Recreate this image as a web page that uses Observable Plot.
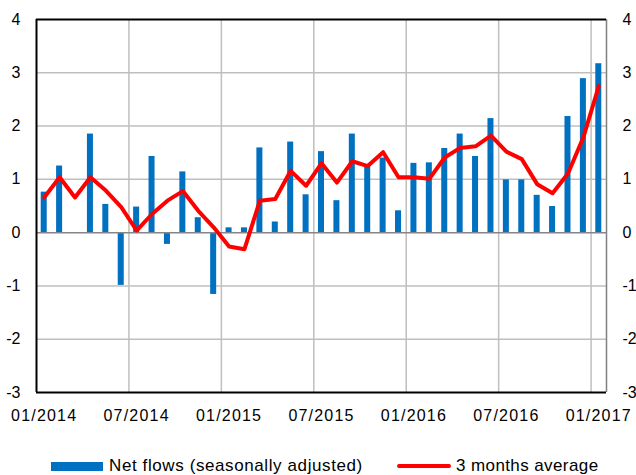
<!DOCTYPE html>
<html>
<head>
<meta charset="utf-8">
<script src="https://cdn.jsdelivr.net/npm/d3@7"></script>
<script src="https://cdn.jsdelivr.net/npm/@observablehq/plot@0.6"></script>
<style>
  html, body { margin: 0; padding: 0; background: #fff; }
  body { width: 636px; height: 475px; overflow: hidden; font-family: "Liberation Sans", Arial, sans-serif; }
  #chart svg { display: block; overflow: hidden; }
  #chart svg g[aria-label="x-axis tick label"] text { letter-spacing: 1.2px; }
  .legend { position: relative; height: 35px; font-size: 17px; color: #000; letter-spacing: 0.6px; }
  .legend .item { position: absolute; top: 16px; display: flex; align-items: center; height: 20px; white-space: nowrap; }
  .legend .sw-bar { width: 52px; height: 9px; background: #0070c0; margin-right: 6px; }
  .legend .sw-line { width: 54px; height: 4px; background: #ff0000; border-radius: 2px; margin-right: 5px; }
</style>
</head>
<body>
<div id="chart"></div>
<div class="legend">
  <div class="item" style="left:51px"><span class="sw-bar"></span><span>Net flows (seasonally adjusted)</span></div>
  <div class="item" style="left:397px"><span class="sw-line"></span><span style="letter-spacing:0.4px">3 months average</span></div>
</div>
<script>
// Months 01/2014 .. 01/2017
const months = d3.utcMonths(new Date(Date.UTC(2014, 0, 1)), new Date(Date.UTC(2017, 1, 1)));

const netFlows = [0.76, 1.25, 0.00, 1.85, 0.53, -0.99, 0.48, 1.43, -0.22, 1.14, 0.28, -1.16,
                  0.09, 0.09, 1.59, 0.20, 1.70, 0.71, 1.52, 0.60, 1.85, 1.27, 1.40, 0.41,
                  1.30, 1.31, 1.58, 1.85, 1.43, 2.14, 0.99, 0.99, 0.70, 0.49, 2.18, 2.89,
                  3.17];

const avg3 = [0.66, 1.04, 0.66, 1.04, 0.79, 0.48, 0.04, 0.35, 0.60, 0.78, 0.41, 0.10,
              -0.26, -0.31, 0.60, 0.63, 1.16, 0.88, 1.30, 0.94, 1.34, 1.25, 1.51, 1.04,
              1.04, 1.01, 1.41, 1.59, 1.62, 1.82, 1.52, 1.38, 0.91, 0.74, 1.11, 1.79,
              2.75];

const xTickLabels = ["01/2014", "07/2014", "01/2015", "07/2015", "01/2016", "07/2016", "01/2017"];
const yTicks = [-3, -2, -1, 0, 1, 2, 3, 4];

const data = months.map((m, i) => ({i, month: m, net: netFlows[i], avg: avg3[i]}));
const xTickIdx = xTickLabels.map(l => months.findIndex(m => d3.utcFormat("%m/%Y")(m) === l));
const labelOf = new Map(xTickIdx.map((k, j) => [k + 0.5, xTickLabels[j]]));

const chart = Plot.plot({
  width: 636,
  height: 440,
  marginLeft: 36,
  marginRight: 30,
  marginTop: 19,
  marginBottom: 48,
  style: {fontFamily: "'Liberation Sans', Arial, sans-serif", fontSize: "16px", color: "#000", background: "#fff"},
  x: {type: "linear", domain: [0, months.length], axis: null},
  y: {domain: [-3, 4], axis: null},
  marks: [
    Plot.ruleY(yTicks.filter(v => v !== 0 && v !== -3 && v !== 4), {stroke: "#bfbfbf", strokeWidth: 1.5}),
    Plot.ruleX(xTickIdx.filter(k => k > 0), {stroke: "#bfbfbf", strokeWidth: 1.5}),
    Plot.ruleX([months.length], {stroke: "#808080", strokeWidth: 1.5}),
    Plot.rectY(data, {x1: d => d.i, x2: d => d.i + 1, y: "net", fill: "#0070c0", insetLeft: 4.7, insetRight: 4.7}),
    Plot.ruleY([0], {stroke: "#868686", strokeWidth: 1.5}),
    Plot.ruleX([0], {stroke: "#000", strokeWidth: 2}),
    Plot.ruleY([4], {stroke: "#000", strokeWidth: 2}),
    Plot.ruleY([-3], {stroke: "#000", strokeWidth: 2}),
    Plot.line(data, {x: d => d.i + 0.5, y: "avg", stroke: "#ff0000", strokeWidth: 4, strokeLinejoin: "round", strokeLinecap: "round"}),
    Plot.axisY(yTicks, {anchor: "left", tickSize: 0, tickPadding: 16, fontSize: 16, tickFormat: d => String(d)}),
    Plot.axisY(yTicks, {anchor: "right", tickSize: 0, tickPadding: 16, fontSize: 16, tickFormat: d => String(d)}),
    Plot.axisX(xTickIdx.map(k => k + 0.5), {anchor: "bottom", tickSize: 0, tickPadding: 17, fontSize: 16,
      tickFormat: v => labelOf.get(v)})
  ]
});
document.getElementById("chart").appendChild(chart);
</script>
</body>
</html>
